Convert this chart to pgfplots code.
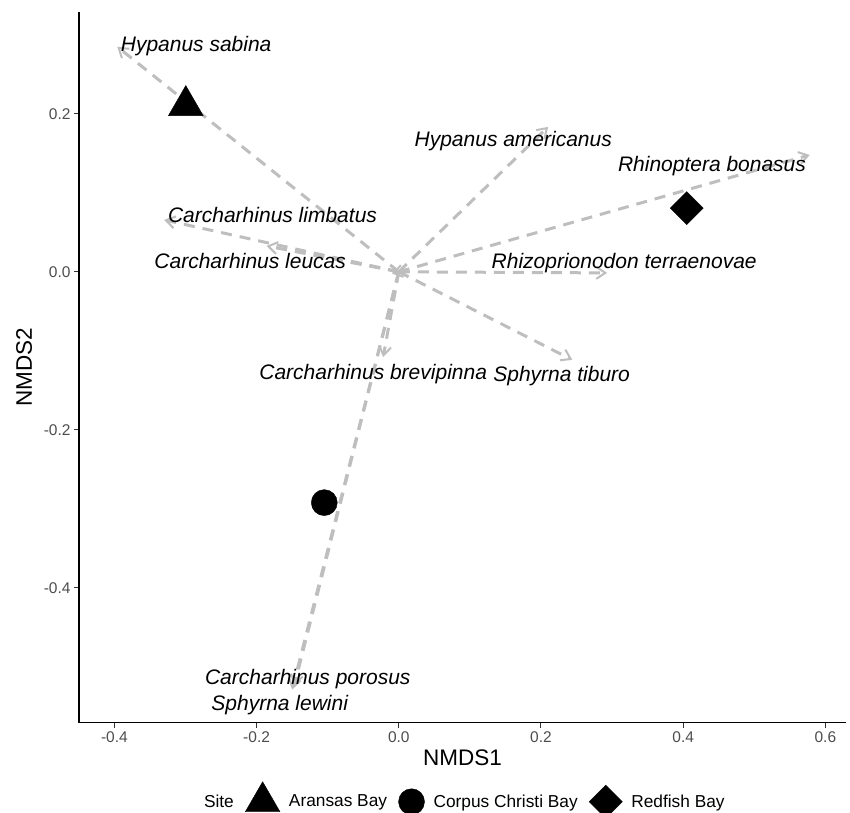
\documentclass[border=0pt]{standalone}
\usepackage{fontspec}
\setmainfont{Liberation Sans}
\usepackage{pgfplots}
\pgfplotsset{compat=1.18}
\usetikzlibrary{arrows.meta}
\definecolor{arrowgray}{HTML}{BEBEBE}
\definecolor{tickgray}{HTML}{4D4D4D}
\begin{document}
\begin{tikzpicture}
\useasboundingbox (0,0) rectangle (850bp,813bp);
\begin{axis}[
  at={(79bp,90.3bp)}, anchor=south west,
  scale only axis, width=767bp, height=710.7bp,
  xmin=-0.4498, xmax=0.629, ymin=-0.571, ymax=0.329,
  axis x line*=bottom, axis y line*=left,
  axis line style={black, line width=1.1bp},
  tick align=outside, major tick length=5bp,
  tick style={black!80, line width=1bp},
  xtick={-0.4,-0.2,0,0.2,0.4,0.6},
  xticklabels={-0.4,-0.2,0.0,0.2,0.4,0.6},
  ytick={-0.4,-0.2,0,0.2},
  yticklabels={-0.4,-0.2,0.0,0.2},
  ticklabel style={font=\fontsize{15.5bp}{18bp}\selectfont, text=tickgray},
  xlabel={NMDS1}, ylabel={NMDS2},
  every axis x label/.style={at={(axis description cs:0.5,-0.0497)}, anchor=center,
    font=\fontsize{22.5bp}{26bp}\selectfont},
  every axis y label/.style={at={(axis description cs:-0.0717,0.5)}, rotate=90, anchor=center,
    font=\fontsize{22.5bp}{26bp}\selectfont},
  clip=false,
  legend columns=4,
  legend style={at={(axis description cs:0.4965,-0.1088)}, anchor=center, draw=none, fill=none,
    inner sep=0pt, font=\fontsize{17.3bp}{20bp}\selectfont,
    nodes={inner sep=0pt, anchor=west},
    /tikz/every odd column/.append style={column sep=9bp},
    /tikz/every even column/.append style={column sep=11.5bp}},
  legend image code/.code={\draw[#1] plot coordinates {(0bp,0bp)};},
]
\addlegendimage{empty legend}
\addlegendentry{Site}
\addplot[only marks, mark=triangle*, mark size=20bp, draw=black, fill=black] coordinates {(-0.2996,0.2105)};
\addlegendentry{Aransas Bay}
\addplot[only marks, mark=*, mark size=13bp, draw=black, fill=black] coordinates {(-0.1048,-0.2923)};
\addlegendentry{Corpus Christi Bay}
\addplot[only marks, mark=square*, mark size=11.7bp, mark options={rotate=45}, draw=black, fill=black] coordinates {(0.405,0.0806)};
\addlegendentry{Redfish Bay}

\pgfplotsset{arr/.style={forget plot, arrowgray, line width=3bp, dash pattern=on 11bp off 8bp,
  -{Straight Barb[length=9bp,width=12bp,line width=2bp]}}}
\addplot[arr] coordinates {(0,0) (-0.396,0.285)};
\addplot[arr] coordinates {(0,0) (0.210,0.1835)};
\addplot[arr] coordinates {(0,0) (0.578,0.148)};
\addplot[arr] coordinates {(0,0) (-0.330,0.0657)};
\addplot[arr] coordinates {(0,0) (-0.186,0.0328)};
\addplot[arr] coordinates {(0,0) (0.293,-0.0014)};
\addplot[arr] coordinates {(0,0) (0.244,-0.1115)};
\addplot[arr] coordinates {(0,0) (-0.022,-0.108)};
\addplot[arr] coordinates {(0,0) (-0.150,-0.529)};
\addplot[arr] coordinates {(0,0) (-0.147,-0.524)};
\addplot[arr] coordinates {(0,0) (-0.010,-0.002)};

\begin{scope}[every node/.style={font=\fontsize{21bp}{24bp}\selectfont\itshape, anchor=base, inner sep=0pt}]
\node at (axis cs:-0.285,0.279) {Hypanus sabina};
\node at (axis cs:0.161,0.159) {Hypanus americanus};
\node at (axis cs:0.4405,0.127) {Rhinoptera bonasus};
\node at (axis cs:0.317,0.0046) {Rhizoprionodon terraenovae};
\node at (axis cs:0.229,-0.139) {Sphyrna tiburo};
\node at (axis cs:-0.1776,0.0623) {Carcharhinus limbatus};
\node at (axis cs:-0.209,0.0046) {Carcharhinus leucas};
\node at (axis cs:-0.036,-0.137) {Carcharhinus brevipinna};
\node at (axis cs:-0.128,-0.522) {Carcharhinus porosus};
\node at (axis cs:-0.1675,-0.555) {Sphyrna lewini};
\end{scope}
\end{axis}
\end{tikzpicture}
\end{document}
